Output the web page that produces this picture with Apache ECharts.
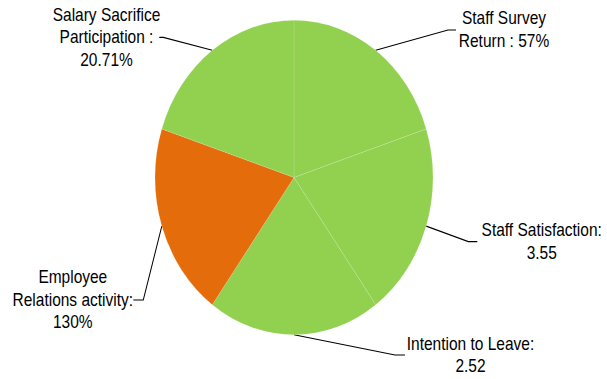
<!DOCTYPE html>
<html>
<head>
<meta charset="utf-8">
<script src="https://cdn.jsdelivr.net/npm/echarts@6/dist/echarts.min.js"></script>
<style>
  html, body { margin: 0; padding: 0; background: #fff; overflow: hidden; }
  #wrap { width: 607px; height: 379px; overflow: hidden; }
  /* the pie is drawn round and then stretched to an upright oval */
  #chart { width: 607px; height: 335px; transform: scaleY(1.1313); transform-origin: 0 0; }
</style>
</head>
<body>
<div id="wrap"><div id="chart"></div></div>
<script>
// KPI segments, clockwise from 12 o'clock; every segment has the same share
const categories = [
  'Staff Survey Return',
  'Staff Satisfaction',
  'Intention to Leave',
  'Employee Relations activity',
  'Salary Sacrifice Participation'
];
const sliceWeights = [1, 1, 1, 1, 1];
const labelTexts = [
  'Staff Survey\nReturn : 57%',
  'Staff Satisfaction:\n3.55',
  'Intention to Leave:\n2.52',
  'Employee\nRelations activity:\n130%',
  'Salary Sacrifice\nParticipation :\n20.71%'
];
const ragStatus = ['green', 'green', 'green', 'amber', 'green'];

// presentation
const statusColors = { green: '#92D050', amber: '#E46C0A' };
// label anchor [textX, textY, elbowX, lineEndX] in chart pixels
const labelAnchors = [
  [504, 26.5, 448, 456],
  [541.7, 213.6, 468.3, 477.3],
  [470.5, 313.8, 395, 405],
  [72.8, 265.2, 143.3, 133.3],
  [106.5, 33, 163.3, 159.3]
];
const pieCenter = [294, 156.9];
const pieRadius = 139;

const chart = echarts.init(document.getElementById('chart'), null, { renderer: 'svg' });

const data = categories.map((name, i) => ({
  name: name,
  value: sliceWeights[i],
  itemStyle: { color: statusColors[ragStatus[i]] },
  label: { formatter: labelTexts[i] }
}));

const total = sliceWeights.reduce((a, b) => a + b, 0);
function edgePoint(i) {
  let before = 0;
  for (let k = 0; k < i; k++) before += sliceWeights[k];
  const mid = (90 - (before + sliceWeights[i] / 2) / total * 360) * Math.PI / 180;
  return [pieCenter[0] + pieRadius * Math.cos(mid), pieCenter[1] - pieRadius * Math.sin(mid)];
}

chart.setOption({
  animation: false,
  backgroundColor: '#ffffff',
  series: [{
    type: 'pie',
    center: pieCenter,
    radius: [0, pieRadius],
    startAngle: 90,
    clockwise: true,
    silent: true,
    data: data,
    itemStyle: { borderColor: 'rgba(255,255,255,0.25)', borderWidth: 0.5 },
    label: {
      show: true,
      color: '#000',
      fontFamily: "'Liberation Sans Narrow', 'Arial Narrow', 'Liberation Sans', Arial, sans-serif",
      fontSize: 15.5,
      lineHeight: 20,
      align: 'center',
      overflow: 'none'
    },
    labelLine: {
      show: true,
      lineStyle: { color: '#000', width: 1 }
    },
    labelLayout: function (params) {
      const i = params.dataIndex;
      const a = labelAnchors[i];
      const start = (params.labelLinePoints && params.labelLinePoints[0]) || edgePoint(i);
      return {
        x: a[0],
        y: a[1],
        align: 'center',
        verticalAlign: 'middle',
        labelLinePoints: [start, [a[2], a[1]], [a[3], a[1]]]
      };
    }
  }]
});
</script>
</body>
</html>
